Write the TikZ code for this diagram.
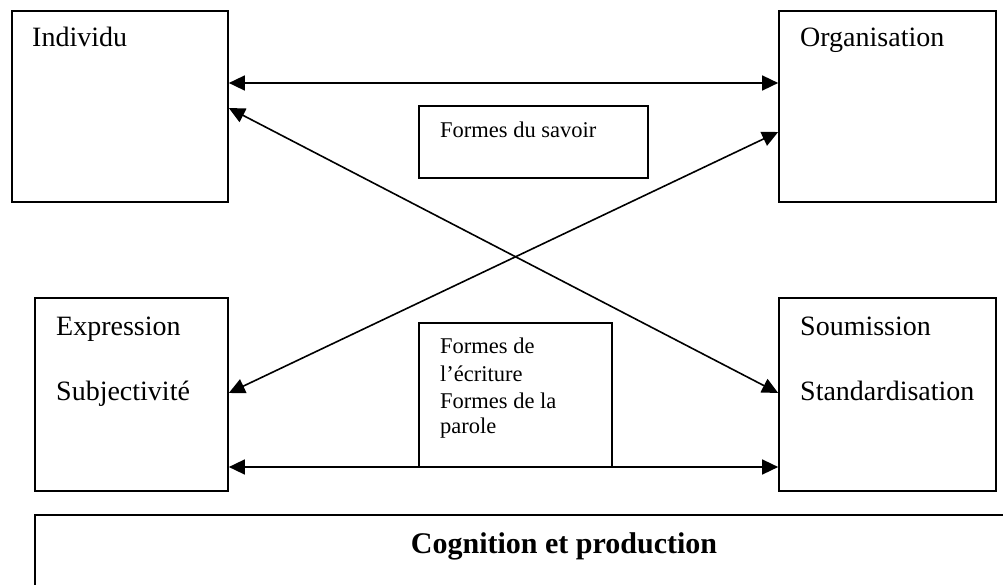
\documentclass[tikz,border=0pt]{standalone}
\usepackage{fontspec}
\setmainfont{Liberation Serif}
\usetikzlibrary{arrows.meta}
\begin{document}
\begin{tikzpicture}[x=1pt,y=-1pt,
  box/.style={draw,line width=1.7pt,fill=white,rectangle,inner sep=0pt},
  lbl/.style={anchor=base west,inner sep=0pt,font=\fontsize{28}{34}\selectfont},
  small/.style={anchor=base west,inner sep=0pt,font=\fontsize{22.5}{27}\selectfont},
  title/.style={anchor=base,inner sep=0pt,font=\fontsize{30}{36}\selectfont\bfseries},
  link/.style={line width=1.6pt,{Triangle[length=16pt,width=15pt]}-{Triangle[length=16pt,width=15pt]}}]
\useasboundingbox (0,0) rectangle (1003,585);
\clip (0,0) rectangle (1003,585);
% boxes
\node[box,minimum width=216pt,minimum height=191pt] (ind) at (120,106.5) {};
\node[box,minimum width=217pt,minimum height=191pt] (org) at (887.5,106.5) {};
\node[box,minimum width=229pt,minimum height=72pt] (sav) at (533.5,142) {};
\node[box,minimum width=193pt,minimum height=193pt] (expr) at (131.5,394.5) {};
\node[box,minimum width=217pt,minimum height=193pt] (soum) at (887.5,394.5) {};
\node[box,minimum width=193pt,minimum height=144pt] (ecr) at (515.5,395) {};
\node[box,minimum width=978pt,minimum height=85pt] (cog) at (524,557.5) {};
% texts
\node[lbl] (tind) at (32,47) {Individu};
\node[lbl] (torg) at (800,47) {Organisation};
\node[small] (tsav) at (440,138) {Formes du savoir};
\node[lbl] (texp1) at (56,335) {Expression};
\node[lbl] (texp2) at (56,400) {Subjectivité};
\node[lbl] (tsou1) at (800,335) {Soumission};
\node[lbl] (tsou2) at (800,400) {Standardisation};
\node[small] (tecr1) at (440,353) {Formes de};
\node[small] (tecr2) at (440,381) {l’écriture};
\node[small] (tecr3) at (440,408) {Formes de la};
\node[small] (tecr4) at (440,433) {parole};
\node[title] (tcog) at (564,553) {Cognition et production};
% connectors
\draw[link] ([yshift=23.5pt]ind.east) -- ([yshift=23.5pt]org.west);
\draw[link] ([yshift=-1.5pt]ind.east) -- ([yshift=1.5pt]soum.west);
\draw[link] ([yshift=1.5pt]expr.east) -- ([yshift=-25.5pt]org.west);
\draw[link] ([yshift=-72.5pt]expr.east) -- ([yshift=-72.5pt]soum.west);
\end{tikzpicture}
\end{document}
